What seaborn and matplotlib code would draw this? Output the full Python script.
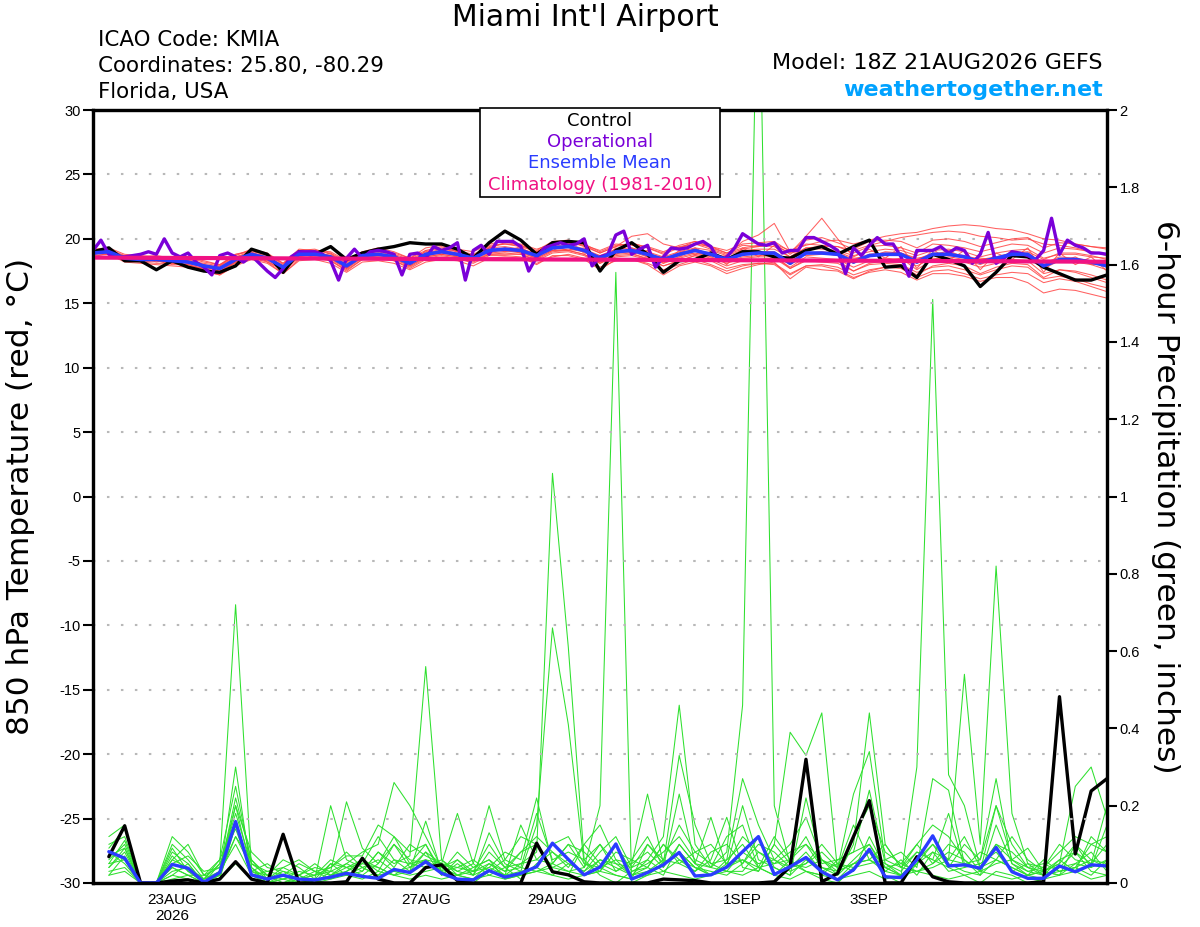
import numpy as np
import pandas as pd
import matplotlib
matplotlib.use('Agg')
import matplotlib.pyplot as plt
from matplotlib.patches import Rectangle
import seaborn as sns

sns.set_style('white')
plt.rcParams['font.family'] = ['Liberation Sans', 'DejaVu Sans']
plt.rcParams['text.color'] = 'black'
plt.rcParams['axes.labelcolor'] = 'black'
plt.rcParams['xtick.color'] = 'black'
plt.rcParams['ytick.color'] = 'black'
plt.rcParams['axes.unicode_minus'] = False
wide = ['DejaVu Sans']

# ---- time axes ----
temp_times = pd.date_range('2026-08-21 18:00', periods=65, freq='6h')
oper_times = pd.date_range('2026-08-21 18:00', periods=129, freq='3h')
precip_times = pd.date_range('2026-08-22 00:00', periods=64, freq='6h')
clim_times = pd.date_range('2026-08-21 00:00', periods=18, freq='D')

xtick_dates = ['2026-08-23', '2026-08-25', '2026-08-27', '2026-08-29',
               '2026-09-01', '2026-09-03', '2026-09-05']
xtick_labels = ['23AUG\n2026', '25AUG', '27AUG', '29AUG', '1SEP', '3SEP', '5SEP']

# ---- 850 hPa temperature (C) ----
temp_control = [19.0, 19.3, 18.3, 18.3, 17.6, 18.3, 17.8, 17.5, 17.4, 17.9,
                19.2, 18.8, 17.4, 19.0, 18.8, 19.4, 18.4, 18.9, 19.2, 19.4,
                19.7, 19.6, 19.6, 19.2, 18.5, 19.7, 20.6, 19.9, 18.8, 19.7,
                19.8, 19.7, 17.5, 19.1, 19.7, 18.8, 17.4, 18.3, 18.4, 18.9,
                18.4, 19.0, 19.0, 18.6, 18.5, 19.1, 19.4, 18.8, 19.4, 19.9,
                17.8, 17.9, 17.0, 18.8, 18.4, 17.9, 16.3, 17.4, 18.7, 18.6,
                17.8, 17.3, 16.8, 16.8, 17.2]

temp_mean = [18.9, 19.0, 18.5, 18.4, 18.4, 18.3, 18.2, 17.9, 17.7, 18.4,
             18.8, 18.5, 17.8, 18.8, 18.8, 18.6, 17.9, 18.7, 18.8, 18.6,
             18.1, 18.8, 19.0, 18.8, 18.5, 19.1, 19.2, 19.1, 18.7, 19.3,
             19.4, 19.1, 18.5, 19.0, 19.1, 18.8, 18.4, 18.8, 19.1, 18.8,
             18.4, 18.8, 18.9, 18.9, 18.1, 18.9, 18.9, 18.8, 18.2, 18.7,
             18.8, 18.8, 18.2, 18.8, 18.8, 18.6, 18.2, 18.5, 18.8, 18.8,
             17.9, 18.4, 18.4, 18.2, 17.9]

temp_oper = [19.1, 19.9, 18.8, 18.6, 18.6, 18.7, 18.8, 19.0, 18.8, 20.0,
             18.9, 18.6, 18.9, 18.2, 17.8, 17.2, 18.7, 18.9, 18.6, 18.2,
             18.7, 18.1, 17.5, 17.0, 17.7, 18.6, 19.0, 19.0, 19.0, 18.8,
             18.3, 16.8, 18.5, 19.2, 18.5, 19.0, 19.1, 19.0, 18.8, 17.2,
             18.8, 18.9, 18.5, 19.4, 19.1, 19.3, 19.7, 16.8, 19.1, 19.5,
             18.8, 19.8, 19.8, 19.8, 19.4, 17.5, 18.6, 19.3, 19.5, 19.7,
             19.5, 19.6, 20.0, 17.9, 18.6, 18.8, 20.3, 20.6, 18.8, 19.2,
             19.5, 17.8, 18.6, 19.3, 19.2, 19.3, 19.6, 19.8, 19.4, 18.3,
             18.6, 19.3, 20.4, 20.0, 19.6, 19.5, 19.7, 18.9, 19.1, 19.1,
             20.1, 20.1, 19.8, 19.5, 19.1, 17.3, 19.3, 18.7, 19.5, 20.1,
             19.6, 19.6, 18.6, 17.1, 19.1, 19.1, 19.1, 19.4, 18.9, 19.3,
             19.1, 18.1, 18.8, 20.5, 18.1, 18.5, 19.0, 18.9, 18.7, 18.4,
             19.1, 21.6, 18.8, 19.9, 19.5, 19.3, 18.9, 18.9, 18.8]

temp_clim = [18.56, 18.54, 18.52, 18.50, 18.48, 18.46, 18.44, 18.42, 18.40,
             18.38, 18.36, 18.34, 18.32, 18.30, 18.28, 18.26, 18.24, 18.22]

temp_members = [
    [19.2, 19.3, 18.8, 18.7, 18.6, 18.6, 18.5, 18.3, 18.0, 18.7, 19.2, 18.9, 18.1, 19.2, 19.1,
     19.0, 18.3, 19.0, 19.3, 19.0, 18.5, 19.3, 19.5, 19.2, 19.0, 19.6, 19.8, 19.5, 19.1, 19.8,
     19.9, 19.6, 19.0, 19.5, 19.6, 19.4, 19.0, 19.5, 19.8, 19.4, 19.1, 19.6, 19.7, 19.8, 19.0,
     19.9, 20.1, 19.7, 19.2, 19.8, 19.9, 19.8, 19.3, 19.9, 20.0, 19.8, 19.4, 19.7, 20.0, 20.1,
     19.3, 19.7, 19.6, 19.4, 19.2],
    [18.7, 18.8, 18.2, 18.1, 18.0, 17.9, 17.8, 17.5, 17.2, 17.9, 18.4, 18.1, 17.3, 18.3, 18.4,
     18.1, 17.4, 18.2, 18.3, 18.1, 17.6, 18.2, 18.4, 18.3, 17.9, 18.5, 18.6, 18.5, 18.1, 18.6,
     18.8, 18.5, 17.8, 18.3, 18.4, 18.1, 17.6, 18.0, 18.4, 18.0, 17.5, 17.9, 18.1, 18.0, 17.2,
     17.9, 18.0, 17.8, 17.2, 17.6, 17.8, 17.7, 17.0, 17.5, 17.6, 17.3, 16.9, 17.2, 17.4, 17.3,
     16.6, 16.9, 16.7, 16.3, 15.9],
    [19.0, 18.9, 18.3, 18.6, 18.2, 18.4, 17.9, 17.7, 17.9, 18.8, 19.0, 18.2, 17.6, 19.0, 18.5,
     18.9, 17.7, 18.9, 18.5, 18.8, 17.9, 19.1, 18.8, 19.2, 18.3, 19.3, 19.0, 19.4, 18.5, 19.5,
     19.1, 19.3, 18.2, 19.3, 18.9, 19.1, 18.1, 19.1, 18.8, 19.0, 18.0, 19.3, 18.6, 19.5, 18.9,
     20.2, 21.6, 20.0, 18.6, 19.2, 18.5, 19.4, 17.7, 19.2, 18.3, 19.1, 17.6, 18.9, 18.4, 19.3,
     17.4, 18.9, 18.0, 18.6, 17.5],
    [18.8, 19.1, 18.6, 18.3, 18.5, 18.2, 18.3, 18.0, 17.6, 18.2, 18.7, 18.6, 17.9, 18.6, 18.9,
     18.5, 18.0, 18.5, 18.9, 18.4, 18.2, 18.6, 19.1, 18.6, 18.6, 18.9, 19.3, 18.9, 18.8, 19.1,
     19.6, 18.9, 18.7, 18.8, 19.3, 18.6, 18.6, 18.6, 19.3, 18.6, 18.7, 19.8, 20.3, 21.2, 19.0,
     18.7, 18.8, 19.0, 18.5, 18.6, 19.0, 18.9, 18.5, 18.7, 19.1, 18.5, 18.5, 18.4, 19.0, 18.7,
     18.2, 18.2, 18.6, 18.0, 18.1],
    [18.9, 19.2, 18.6, 18.5, 18.3, 18.1, 18.0, 17.7, 17.4, 18.2, 18.5, 18.3, 17.5, 18.5, 18.6,
     18.3, 17.6, 18.4, 18.5, 18.3, 17.8, 18.5, 18.7, 18.5, 18.2, 18.8, 18.8, 18.8, 18.4, 19.0,
     19.1, 18.8, 18.2, 18.7, 18.8, 18.5, 18.1, 18.5, 18.8, 18.5, 18.1, 18.5, 18.6, 18.6, 17.8,
     18.6, 18.5, 18.4, 17.8, 18.3, 18.5, 18.4, 17.9, 18.5, 18.4, 18.2, 17.8, 18.1, 18.4, 18.3,
     17.3, 17.6, 17.4, 17.0, 16.6],
    [19.0, 19.0, 18.4, 18.4, 18.5, 18.5, 18.3, 18.1, 17.9, 18.6, 18.9, 18.7, 17.9, 18.9, 19.0,
     18.7, 18.1, 18.8, 19.0, 18.7, 18.3, 18.9, 19.2, 19.0, 18.7, 19.3, 19.4, 19.2, 18.9, 19.4,
     19.6, 19.2, 18.7, 19.2, 19.3, 19.0, 18.6, 19.0, 19.3, 19.1, 18.7, 19.1, 19.2, 19.2, 18.6,
     19.3, 19.4, 19.4, 19.1, 19.5, 19.8, 20.1, 20.3, 20.5, 20.6, 20.5, 20.2, 20.1, 19.9, 20.0,
     19.6, 19.5, 19.3, 19.0, 18.8],
    [18.6, 18.9, 18.3, 18.2, 18.3, 18.0, 18.0, 17.6, 17.5, 18.1, 18.6, 18.4, 17.6, 18.6, 18.5,
     18.5, 17.7, 18.6, 18.6, 18.5, 17.9, 18.6, 18.8, 18.6, 18.3, 18.9, 19.0, 19.0, 18.5, 19.1,
     19.2, 19.0, 18.3, 18.9, 19.0, 18.6, 18.2, 18.6, 18.9, 18.6, 18.2, 18.6, 18.7, 18.7, 17.7,
     18.3, 18.2, 18.1, 17.5, 18.0, 18.1, 18.0, 17.4, 17.8, 17.9, 17.6, 17.2, 17.6, 17.9, 17.8,
     16.9, 17.1, 16.9, 16.5, 16.2],
    [19.1, 18.9, 18.7, 18.5, 18.4, 18.4, 18.3, 17.9, 17.7, 18.5, 18.9, 18.6, 17.6, 18.9, 18.7,
     18.7, 17.8, 18.8, 18.8, 18.6, 18.0, 18.9, 19.0, 18.7, 18.4, 19.1, 19.3, 19.1, 18.6, 19.3,
     19.5, 19.1, 18.4, 19.1, 19.1, 18.9, 18.3, 18.9, 19.2, 18.8, 18.4, 18.8, 18.9, 18.9, 18.0,
     18.9, 18.9, 18.7, 18.1, 18.8, 18.8, 18.8, 18.1, 18.8, 18.7, 18.6, 18.1, 18.4, 18.8, 18.8,
     17.7, 18.3, 18.2, 18.0, 17.6],
    [18.8, 19.0, 18.5, 18.3, 18.4, 18.3, 18.1, 17.8, 17.6, 18.3, 18.8, 18.5, 17.7, 18.7, 18.8,
     18.6, 17.8, 18.7, 18.8, 18.6, 18.1, 18.7, 19.0, 18.9, 18.5, 19.3, 19.7, 19.6, 19.2, 19.6,
     19.7, 19.5, 18.9, 19.4, 20.2, 20.4, 19.6, 19.3, 19.8, 19.3, 18.9, 19.3, 19.5, 19.4, 18.6,
     19.3, 19.2, 19.1, 18.7, 19.0, 19.2, 19.1, 18.7, 19.1, 19.2, 19.0, 18.6, 18.9, 19.1, 19.2,
     18.5, 18.8, 18.8, 18.6, 18.5],
    [19.0, 19.1, 18.6, 18.4, 18.3, 18.2, 18.2, 17.9, 17.8, 18.4, 18.7, 18.4, 17.8, 18.7, 18.7,
     18.6, 18.0, 18.6, 18.7, 18.6, 18.2, 18.7, 18.9, 18.7, 18.4, 19.0, 19.1, 18.9, 18.5, 19.1,
     19.1, 18.8, 18.1, 18.8, 18.9, 18.4, 17.9, 18.3, 18.7, 18.4, 17.9, 18.3, 18.4, 18.5, 17.7,
     18.4, 18.4, 18.3, 17.5, 18.1, 18.3, 18.5, 17.6, 18.4, 18.6, 18.4, 18.0, 18.5, 18.9, 19.0,
     18.4, 18.9, 18.9, 18.7, 18.4],
    [18.9, 19.0, 18.4, 18.5, 18.5, 18.4, 18.2, 17.9, 17.7, 18.4, 18.8, 18.4, 17.9, 18.8, 18.9,
     18.6, 17.9, 18.7, 18.9, 18.6, 18.2, 18.8, 19.0, 18.8, 18.6, 19.1, 19.2, 19.2, 18.8, 19.3,
     19.4, 19.1, 18.6, 19.0, 19.2, 18.9, 18.5, 18.9, 19.1, 18.9, 18.5, 18.9, 19.0, 19.0, 18.3,
     18.9, 19.0, 18.9, 18.4, 18.8, 18.9, 18.9, 18.4, 18.9, 18.9, 18.7, 18.4, 18.6, 18.9, 18.9,
     18.1, 18.6, 18.5, 18.3, 18.0],
    [18.8, 18.9, 18.5, 18.3, 18.3, 18.2, 18.1, 17.8, 17.5, 18.2, 18.6, 18.4, 17.7, 18.6, 18.6,
     18.4, 17.7, 18.5, 18.6, 18.4, 17.9, 18.6, 18.8, 18.6, 18.3, 18.8, 18.9, 18.8, 18.3, 18.9,
     19.0, 18.7, 18.1, 18.6, 18.7, 18.4, 17.9, 18.3, 18.7, 18.3, 17.7, 18.0, 18.1, 18.1, 17.3,
     17.9, 17.9, 17.6, 17.0, 17.4, 17.6, 17.4, 16.8, 17.3, 17.3, 17.1, 16.7, 17.0, 17.0, 16.6,
     15.8, 16.1, 16.0, 15.7, 15.4],
    [19.1, 19.2, 18.7, 18.6, 18.7, 18.5, 18.4, 18.0, 17.8, 18.6, 19.0, 18.8, 18.0, 19.1, 19.2,
     18.8, 18.2, 19.0, 19.1, 18.8, 18.4, 19.0, 19.3, 19.1, 18.8, 19.4, 19.6, 19.4, 19.0, 19.6,
     19.8, 19.4, 18.9, 19.4, 19.7, 19.3, 18.8, 19.3, 19.6, 19.2, 18.8, 19.2, 19.4, 19.6, 19.1,
     19.5, 19.8, 19.9, 19.6, 19.9, 20.2, 20.4, 20.5, 20.8, 21.0, 21.1, 21.0, 20.8, 20.7, 20.4,
     20.0, 19.9, 19.6, 19.4, 19.3],
    [18.9, 18.8, 18.4, 18.2, 18.1, 18.1, 17.9, 17.5, 17.2, 18.0, 18.5, 18.2, 17.3, 18.4, 18.5,
     18.3, 17.5, 18.4, 18.5, 18.3, 17.7, 18.4, 18.6, 18.5, 18.1, 18.7, 18.7, 18.6, 18.0, 18.7,
     18.7, 18.4, 17.6, 18.4, 18.4, 18.0, 17.2, 17.9, 18.2, 17.9, 17.3, 17.7, 18.0, 18.2, 16.9,
     17.8, 17.6, 17.5, 16.9, 17.5, 17.8, 17.9, 17.2, 17.9, 18.1, 17.9, 17.3, 17.8, 18.1, 18.0,
     17.0, 17.6, 17.5, 17.2, 16.8],
    [19.0, 19.1, 18.6, 18.6, 18.6, 18.6, 18.5, 18.2, 18.0, 18.8, 19.1, 18.8, 18.1, 19.0, 19.1,
     18.9, 18.2, 18.9, 19.1, 18.9, 18.5, 19.1, 19.4, 19.0, 18.7, 19.5, 19.6, 19.5, 19.0, 19.7,
     19.7, 19.5, 19.1, 19.6, 19.5, 19.3, 18.9, 19.4, 19.6, 19.4, 18.9, 19.5, 19.4, 19.6, 18.8,
     19.6, 19.5, 19.4, 18.9, 19.4, 19.5, 19.3, 18.9, 19.6, 19.5, 19.3, 19.0, 19.3, 19.6, 19.5,
     18.9, 19.3, 19.2, 19.0, 18.7],
]

# ---- 6-hour precipitation (inches) ----
precip_control = [0.068, 0.148, 0, 0, 0.005, 0.008, 0, 0.01,
                  0.055, 0.01, 0, 0.126, 0, 0, 0, 0.003,
                  0.064, 0.01, 0, 0, 0.04, 0.047, 0.006, 0,
                  0, 0, 0, 0.103, 0.029, 0.021, 0.003, 0,
                  0, 0, 0, 0.01, 0.008, 0.006, 0, 0,
                  0, 0, 0.003, 0.042, 0.32, 0.003, 0.025, 0.12,
                  0.213, 0, 0, 0.068, 0.016, 0.003, 0, 0,
                  0, 0, 0, 0.003, 0.482, 0.075, 0.238, 0.27]

precip_mean = [0.081, 0.064, 0, 0, 0.048, 0.038, 0.002, 0.027,
               0.159, 0.021, 0.01, 0.02, 0.01, 0.008, 0.015, 0.025,
               0.017, 0.012, 0.035, 0.027, 0.055, 0.025, 0.01, 0.008,
               0.032, 0.015, 0.025, 0.042, 0.103, 0.061, 0.021, 0.041,
               0.101, 0.01, 0.027, 0.047, 0.079, 0.018, 0.021, 0.041,
               0.081, 0.12, 0.022, 0.042, 0.066, 0.029, 0.008, 0.034,
               0.087, 0.016, 0.014, 0.06, 0.122, 0.044, 0.047, 0.038,
               0.092, 0.029, 0.012, 0.012, 0.044, 0.029, 0.047, 0.044]

precip_members = [
    [0.06, 0.10, 0, 0, 0.04, 0.02, 0, 0.05, 0.72, 0.04, 0, 0.01, 0, 0, 0.02, 0.03,
     0.06, 0.04, 0.02, 0.05, 0.10, 0.03, 0.01, 0, 0.03, 0.02, 0.05, 0.08, 1.06, 0.61, 0.06, 0.02,
     0, 0.03, 0.04, 0.02, 0.10, 0.05, 0.02, 0.06, 0.10, 0.04, 0.02, 0.06, 0.03, 0.01, 0, 0.04,
     0.08, 0.02, 0, 0.05, 0.10, 0.04, 0.02, 0, 0.03, 0.02, 0, 0.01, 0.04, 0.08, 0.03, 0.02],
    [0.12, 0.15, 0, 0, 0.08, 0.05, 0, 0.02, 0.30, 0.02, 0, 0, 0.02, 0, 0.05, 0.02,
     0.03, 0.08, 0.05, 0.07, 0.56, 0.06, 0.02, 0.04, 0.06, 0.01, 0.02, 0.03, 0.05, 0.10, 0.04, 0.20,
     1.58, 0, 0.02, 0.05, 0.08, 0.04, 0.03, 0.02, 0.05, 0.12, 0.04, 0.02, 0.06, 0.03, 0.01, 0.05,
     0.06, 0.03, 0.02, 0.05, 0.08, 0.06, 0.54, 0.10, 0.82, 0.18, 0.05, 0.02, 0.03, 0.04, 0.02, 0.06],
    [0.04, 0.08, 0, 0, 0.10, 0.06, 0.01, 0.03, 0.22, 0.06, 0.02, 0, 0.01, 0.02, 0.03, 0.05,
     0.08, 0.10, 0.26, 0.20, 0.12, 0.04, 0.02, 0.01, 0.05, 0.03, 0.08, 0.10, 0.04, 0.03, 0.02, 0.06,
     0.05, 0.02, 0.06, 0.12, 0.46, 0.10, 0.04, 0.08, 0.46, 2.50, 0.20, 0.05, 0.03, 0.02, 0.06, 0.08,
     0.10, 0.04, 0.02, 0.06, 0.12, 0.05, 0.03, 0.02, 0.06, 0.04, 0.02, 0.03, 0.05, 0.10, 0.06, 0.04],
    [0.08, 0.05, 0, 0, 0.06, 0.10, 0.02, 0.01, 0.15, 0.03, 0.01, 0.02, 0, 0.01, 0.20, 0.06,
     0.04, 0.02, 0.03, 0.04, 0.06, 0.05, 0.18, 0.05, 0.02, 0.04, 0.01, 0.05, 0.08, 0.04, 0.10, 0.05,
     0.03, 0.05, 0.23, 0.05, 0.08, 0.04, 0.02, 0.04, 0.06, 0.03, 0.10, 0.39, 0.33, 0.44, 0.03, 0.05,
     0.08, 0.05, 0.02, 0.30, 1.51, 0.28, 0.20, 0.04, 0.10, 0.06, 0.03, 0.02, 0.04, 0.05, 0.08, 0.03],
    [0.10, 0.12, 0, 0, 0.12, 0.08, 0.02, 0.04, 0.20, 0.08, 0.04, 0.03, 0.02, 0, 0.03, 0.21,
     0.09, 0.05, 0.10, 0.04, 0.08, 0.02, 0.05, 0.02, 0.13, 0.05, 0.03, 0.15, 0.66, 0.41, 0.05, 0.03,
     0.10, 0.03, 0.05, 0.08, 0.12, 0.06, 0.04, 0.03, 0.08, 0.05, 0.06, 0.10, 0.17, 0.06, 0.02, 0.10,
     0.44, 0.10, 0.04, 0.03, 0.05, 0.10, 0.08, 0.03, 0.20, 0.06, 0.09, 0.03, 0.05, 0.25, 0.30, 0.17],
    [0.05, 0.06, 0, 0, 0.03, 0.04, 0.01, 0.06, 0.25, 0.05, 0.03, 0.04, 0.06, 0.03, 0.02, 0.04,
     0.05, 0.12, 0.06, 0.03, 0.16, 0.03, 0.04, 0.03, 0.04, 0.08, 0.06, 0.22, 0.05, 0.10, 0.08, 0.04,
     0.02, 0.01, 0.10, 0.05, 0.33, 0.15, 0.05, 0.06, 0.27, 0.15, 0.06, 0.04, 0.05, 0.08, 0.04, 0.23,
     0.34, 0.06, 0.08, 0.04, 0.27, 0.24, 0.05, 0.06, 0.27, 0.05, 0.02, 0.06, 0.03, 0.04, 0.10, 0.08],
    [0.09, 0.14, 0, 0, 0.07, 0.03, 0, 0.02, 0.12, 0.04, 0.01, 0.03, 0.01, 0.02, 0.04, 0.07,
     0.07, 0.15, 0.12, 0.05, 0.04, 0.06, 0.03, 0.05, 0.20, 0.06, 0.12, 0.10, 0.03, 0.02, 0.10, 0.15,
     0.06, 0.05, 0.08, 0.04, 0.23, 0.05, 0.17, 0.04, 0.20, 0.06, 0.04, 0.02, 0.22, 0.05, 0.06, 0.08,
     0.24, 0.05, 0.03, 0.08, 0.06, 0.04, 0.10, 0.06, 0.20, 0.10, 0.04, 0.03, 0.06, 0.08, 0.05, 0.20],
    [0.03, 0.04, 0, 0, 0.02, 0.01, 0, 0.03, 0.10, 0.02, 0, 0.01, 0.02, 0.04, 0.03, 0.02,
     0.04, 0.06, 0.03, 0.02, 0.03, 0.04, 0.02, 0.03, 0.05, 0.02, 0.03, 0.04, 0.02, 0.05, 0.03, 0.06,
     0.04, 0.02, 0.03, 0.06, 0.05, 0.03, 0.06, 0.17, 0.04, 0.03, 0.10, 0.05, 0.04, 0.06, 0.03, 0.05,
     0.06, 0.04, 0.05, 0.03, 0.04, 0.06, 0.05, 0.04, 0.06, 0.04, 0.02, 0.03, 0.02, 0.05, 0.04, 0.06],
    [0.07, 0.09, 0, 0, 0.05, 0.07, 0.03, 0.04, 0.18, 0.05, 0.02, 0.06, 0.04, 0.01, 0.05, 0.04,
     0.06, 0.03, 0.10, 0.06, 0.05, 0.04, 0.06, 0.02, 0.08, 0.04, 0.05, 0.06, 0.05, 0.03, 0.04, 0.10,
     0.05, 0.04, 0.06, 0.03, 0.06, 0.04, 0.02, 0.05, 0.06, 0.04, 0.05, 0.08, 0.10, 0.04, 0.02, 0.06,
     0.10, 0.03, 0.06, 0.02, 0.08, 0.03, 0.04, 0.05, 0.08, 0.03, 0.05, 0.04, 0.10, 0.06, 0.05, 0.10],
    [0.02, 0.07, 0, 0, 0.09, 0.03, 0.01, 0.05, 0.14, 0.03, 0.05, 0.02, 0.05, 0.03, 0.01, 0.03,
     0.05, 0.04, 0.02, 0.03, 0.08, 0.05, 0.04, 0.06, 0.03, 0.06, 0.04, 0.03, 0.04, 0.06, 0.02, 0.03,
     0.08, 0.06, 0.04, 0.10, 0.05, 0.08, 0.05, 0.03, 0.03, 0.08, 0.06, 0.03, 0.05, 0.10, 0.05, 0.04,
     0.05, 0.06, 0.04, 0.10, 0.05, 0.08, 0.06, 0.03, 0.05, 0.06, 0.04, 0.05, 0.03, 0.04, 0.06, 0.05],
    [0.05, 0.11, 0, 0, 0.06, 0.04, 0.01, 0.02, 0.20, 0.03, 0.02, 0.01, 0.03, 0.02, 0.06, 0.04,
     0.02, 0.05, 0.12, 0.08, 0.10, 0.02, 0.06, 0.03, 0.10, 0.04, 0.08, 0.12, 0.08, 0.05, 0.03, 0.08,
     0.12, 0.04, 0.10, 0.06, 0.15, 0.08, 0.10, 0.05, 0.12, 0.08, 0.05, 0.06, 0.12, 0.04, 0.03, 0.12,
     0.20, 0.08, 0.05, 0.10, 0.15, 0.12, 0.06, 0.02, 0.15, 0.05, 0.03, 0.04, 0.08, 0.12, 0.10, 0.12],
    [0.08, 0.06, 0, 0, 0.02, 0.05, 0, 0.03, 0.12, 0.06, 0.01, 0.04, 0.02, 0.05, 0.02, 0.05,
     0.03, 0.08, 0.04, 0.10, 0.07, 0.05, 0.03, 0.02, 0.04, 0.02, 0.15, 0.06, 0.10, 0.12, 0.05, 0.04,
     0.06, 0.02, 0.04, 0.10, 0.06, 0.03, 0.08, 0.10, 0.05, 0.10, 0.08, 0.04, 0.08, 0.03, 0.05, 0.03,
     0.12, 0.04, 0.02, 0.06, 0.10, 0.06, 0.12, 0.04, 0.10, 0.08, 0.04, 0.02, 0.06, 0.03, 0.12, 0.08],
    [0.04, 0.09, 0, 0, 0.04, 0.02, 0.02, 0.06, 0.16, 0.02, 0.03, 0.02, 0.01, 0.03, 0.04, 0.08,
     0.04, 0.02, 0.06, 0.05, 0.06, 0.03, 0.08, 0.04, 0.06, 0.03, 0.04, 0.18, 0.06, 0.08, 0.06, 0.10,
     0.03, 0.06, 0.12, 0.04, 0.10, 0.05, 0.04, 0.12, 0.15, 0.04, 0.12, 0.06, 0.10, 0.06, 0.04, 0.15,
     0.06, 0.10, 0.04, 0.08, 0.06, 0.18, 0.04, 0.08, 0.06, 0.12, 0.06, 0.03, 0.02, 0.10, 0.04, 0.15],
    [0.02, 0.03, 0, 0, 0.01, 0.02, 0, 0.01, 0.05, 0.01, 0, 0.02, 0.01, 0, 0.01, 0.02,
     0.01, 0.03, 0.02, 0.01, 0.02, 0.01, 0.02, 0.01, 0.02, 0.01, 0.02, 0.03, 0.02, 0.01, 0.02, 0.03,
     0.02, 0.01, 0.02, 0.03, 0.02, 0.01, 0.02, 0.03, 0.02, 0.04, 0.02, 0.01, 0.03, 0.02, 0.01, 0.02,
     0.03, 0.01, 0.02, 0.03, 0.02, 0.01, 0.02, 0.03, 0.02, 0.01, 0.02, 0.01, 0.02, 0.03, 0.01, 0.02],
]

# ---- long tables for seaborn ----
df_temp = pd.DataFrame({
    'time': np.tile(temp_times, len(temp_members)),
    'value': np.concatenate(temp_members),
    'member': np.repeat(np.arange(len(temp_members)), len(temp_times)),
})
df_prcp = pd.DataFrame({
    'time': np.tile(precip_times, len(precip_members)),
    'value': np.concatenate(precip_members),
    'member': np.repeat(np.arange(len(precip_members)), len(precip_times)),
})

c_member_t = '#ff4545'
c_member_p = '#2ee02e'
c_oper = '#7a00d8'
c_mean = '#2a3cff'
c_clim = '#f01283'

fig = plt.figure(figsize=(12, 9.27), dpi=100)
ax = fig.add_axes([0.0775, 0.0475, 0.845, 0.8338])
ax2 = ax.twinx()

# precipitation (right axis)
sns.lineplot(data=df_prcp, x='time', y='value', units='member', estimator=None,
             color=c_member_p, lw=0.75, ax=ax2, legend=False)
sns.lineplot(x=precip_times, y=precip_control, color='black', lw=2.4, ax=ax2)
sns.lineplot(x=precip_times, y=precip_mean, color=c_mean, lw=2.4, ax=ax2)

# temperature (left axis)
sns.lineplot(data=df_temp, x='time', y='value', units='member', estimator=None,
             color=c_member_t, lw=0.75, alpha=0.85, ax=ax, legend=False)
sns.lineplot(x=temp_times, y=temp_control, color='black', lw=2.4, ax=ax)
sns.lineplot(x=oper_times, y=temp_oper, color=c_oper, lw=2.4, ax=ax)
sns.lineplot(x=temp_times, y=temp_mean, color=c_mean, lw=2.6, ax=ax)
sns.lineplot(x=clim_times, y=temp_clim, color=c_clim, lw=3.0, ax=ax)

# temperature axis above precip so its lines sit on top
ax.set_zorder(2)
ax.patch.set_visible(False)

t0 = pd.Timestamp('2026-08-21 18:00')
t1 = pd.Timestamp('2026-09-06 18:00')
ax.set_xlim(t0, t1)
ax.set_ylim(-30, 30)
ax2.set_ylim(0, 2)

ax.set_xticks(pd.to_datetime(xtick_dates))
ax.set_xticklabels(xtick_labels)
ax.set_yticks(range(-30, 31, 5))
right_ticks = np.round(np.arange(0, 2.01, 0.2), 1)
ax2.set_yticks(right_ticks)
ax2.set_yticklabels(['%g' % v for v in right_ticks])

ax.tick_params(axis='x', direction='out', length=4, width=1.2, labelsize=11, pad=3)
ax.tick_params(axis='y', direction='out', length=7, width=1.5, labelsize=10.5, pad=2)
ax2.tick_params(axis='y', direction='out', length=7, width=1.5, labelsize=10.5, pad=2)

ax.yaxis.grid(True, color='#b8b8b8', linestyle=(0, (1.2, 5.5)), linewidth=1.5)
ax.xaxis.grid(False)
ax.set_axisbelow(True)

ax.set_xlabel('')
ax2.set_xlabel('')
ax.set_ylabel('850 hPa Temperature (red, °C)', fontsize=22.5, family=wide)
ax.yaxis.set_label_coords(-0.057, 0.5)
ax2.set_ylabel('6-hour Precipitation (green, inches)', fontsize=22.5, rotation=270,
               family=wide)
ax2.yaxis.set_label_coords(1.072, 0.5)

for a in (ax, ax2):
    for s in a.spines.values():
        s.set_linewidth(2.3)
        s.set_color('black')

# header texts
fig.text(0.4875, 0.981, "Miami Int'l Airport", ha='center', va='center', fontsize=21.5,
         family=wide)
for txt, yy in [('ICAO Code: KMIA', 0.957), ('Coordinates: 25.80, -80.29', 0.929),
                ('Florida, USA', 0.901)]:
    fig.text(0.0817, yy, txt, ha='left', va='center', fontsize=15.4, family=wide)
fig.text(0.919, 0.932, 'Model: 18Z 21AUG2026 GEFS', ha='right', va='center', fontsize=16,
         family=wide)
fig.text(0.919, 0.903, 'weathertogether.net', ha='right', va='center', fontsize=16,
         fontweight='bold', color='#00a2ff', family=wide)

# legend box
fig.add_artist(Rectangle((0.4, 0.7875), 0.2, 0.0955, transform=fig.transFigure,
                         facecolor='white', edgecolor='black', lw=1.2, zorder=5))
legend_items = [('Control', 'black'), ('Operational', c_oper),
                ('Ensemble Mean', c_mean), ('Climatology (1981-2010)', c_clim)]
legend_y = [0.8695, 0.8468, 0.8242, 0.8004]
for (label, col), yy in zip(legend_items, legend_y):
    fig.text(0.5, yy, label, ha='center', va='center', fontsize=13, color=col, zorder=6,
             family=wide)

fig.savefig('out.png', dpi=100)
